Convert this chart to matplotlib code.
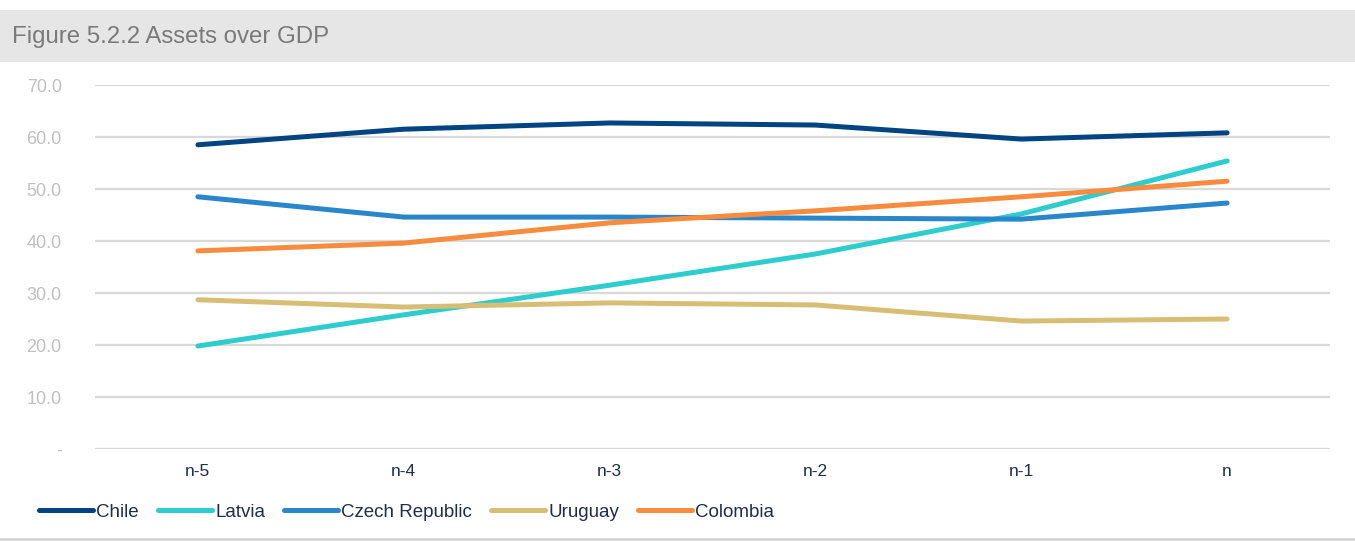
import numpy as np
import matplotlib
matplotlib.use("Agg")
from matplotlib import pyplot as plt
from matplotlib.patches import Rectangle
from matplotlib.lines import Line2D

plt.rcParams['font.family'] = ['Liberation Sans', 'DejaVu Sans']

# data
periods = ["n-5", "n-4", "n-3", "n-2", "n-1", "n"]
chile = [58.5, 61.5, 62.7, 62.3, 59.6, 60.8]
latvia = [19.8, 25.8, 31.5, 37.5, 45.2, 55.4]
czech = [48.5, 44.6, 44.6, 44.4, 44.2, 47.3]
uruguay = [28.7, 27.3, 28.1, 27.7, 24.6, 25.0]
colombia = [38.1, 39.6, 43.5, 45.8, 48.5, 51.5]

series = [
    ("Chile", chile, "#004481"),
    ("Latvia", latvia, "#2DCCCD"),
    ("Czech Republic", czech, "#2A86CA"),
    ("Uruguay", uruguay, "#D8BE75"),
    ("Colombia", colombia, "#F78C3F"),
]
yticks = [0, 10, 20, 30, 40, 50, 60, 70]
ytick_labels = ["-", "10.0", "20.0", "30.0", "40.0", "50.0", "60.0", "70.0"]

W, H = 1355, 541
fig = plt.figure(figsize=(W / 100, H / 100), dpi=100)

# title band
fig.patches.append(Rectangle((0, 1 - 62 / H), 1, 52 / H, transform=fig.transFigure,
                             facecolor="#E6E6E6", edgecolor="none", zorder=0))
fig.text(12 / W, 1 - 37 / H, "Figure 5.2.2 Assets over GDP", fontsize=17.3,
         color="#7A7A7A", va="center", ha="left")
# bottom rule
fig.add_artist(Line2D([0, 1], [1 - 539 / H, 1 - 539 / H], transform=fig.transFigure,
                      color="#D0D0D0", lw=1.8))

# plot area: x 95..1330, y 85(70)..449(0)
ax = fig.add_axes([95 / W, 1 - 449 / H, (1330 - 95) / W, (449 - 85) / H])
x = np.arange(len(periods))
for name, vals, col in series:
    ax.plot(x, vals, color=col, lw=3.6, solid_capstyle="round",
            solid_joinstyle="round", label=name, zorder=3)

ax.set_xlim(-0.5, len(periods) - 0.5)
ax.set_ylim(0, 70)
ax.set_yticks(yticks)
ax.set_yticklabels(ytick_labels)
ax.set_xticks(x)
ax.set_xticklabels(periods)
for y in yticks:
    ax.axhline(y, color="#D9D9D9", lw=1.6, zorder=1)
for s in ax.spines.values():
    s.set_visible(False)
ax.tick_params(axis="y", length=0, pad=24, labelsize=13, labelcolor="#C0C0C0")
ax.tick_params(axis="x", length=0, pad=11, labelsize=12.5, labelcolor="#1F2D4D")
for lbl in ax.get_yticklabels():
    lbl.set_horizontalalignment("right")

handles, labels = ax.get_legend_handles_labels()
fig.legend(handles, labels, loc="center left", bbox_to_anchor=(39 / W, 1 - 512 / H),
           ncol=5, frameon=False, handlelength=2.9, handletextpad=0.16,
           columnspacing=1.0, fontsize=13.5, labelcolor="#1F2D4D",
           borderaxespad=0, borderpad=0)

plt.savefig("out.png", dpi=100)
